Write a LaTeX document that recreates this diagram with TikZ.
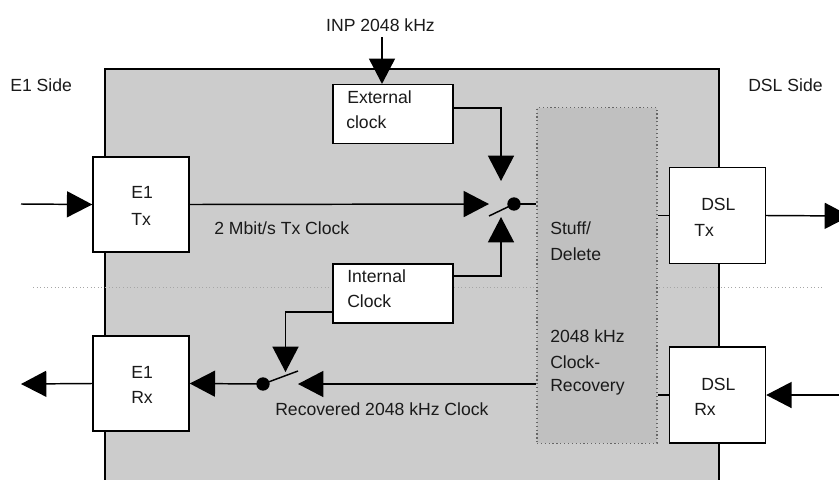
\documentclass[tikz,border=0pt]{standalone}
\usepackage{fontspec}
\setmainfont{Liberation Sans}
\usetikzlibrary{arrows.meta}
\definecolor{panel}{HTML}{CCCCCC}
\definecolor{stuffgrey}{HTML}{C0C0C0}
\definecolor{txt}{HTML}{1A1A1A}
\tikzset{
  blockbox/.style={draw=black,fill=white,line width=1.1pt,inner sep=0pt},
  conn/.style={draw=black,line width=1.1pt},
  flow/.style={conn,-{Triangle[length=19pt,width=19.5pt]},shorten >=0pt},
  lbl/.style={font=\fontsize{13.2pt}{15pt}\selectfont,text=txt,inner sep=0pt,align=left},
  dotnode/.style={circle,fill=black,inner sep=0pt,minimum size=10pt},
}
\begin{document}
\begin{tikzpicture}[x=0.75pt,y=-0.75pt]
\useasboundingbox (0,0) rectangle (839,479);
\begin{scope}
\clip (0,0) rectangle (839,479);
\draw[conn,fill=panel] (105,69) rectangle (719,500);
\draw[draw=gray!70,line width=0.7pt,dotted] (33,287.5) -- (822,287.5);
\node[draw=black!60,dotted,line width=0.9pt,fill=stuffgrey,minimum width=90pt,minimum height=251.5pt,inner sep=0pt] (stuff) at (597,275.5) {};
\node[blockbox,minimum width=72pt,minimum height=71.5pt] (e1tx) at (141,204.5) {};
\node[blockbox,minimum width=72pt,minimum height=71.5pt] (e1rx) at (141,383.5) {};
\node[blockbox,minimum width=72pt,minimum height=72pt] (dsltx) at (717.5,215.5) {};
\node[blockbox,minimum width=72pt,minimum height=72pt] (dslrx) at (717.5,395) {};
\node[blockbox,minimum width=90pt,minimum height=44pt] (ext) at (393,114) {};
\node[blockbox,minimum width=90pt,minimum height=44pt] (int) at (393,293.5) {};
\node[dotnode] (sw1) at (514,204) {};
\node[dotnode] (sw2) at (263,384) {};
\coordinate (sw1tip) at (489,216);
\coordinate (sw2tip) at (298,371);
\coordinate (sw1in) at (489,204);
\coordinate (sw2in) at (298,384);
\coordinate (extin) at (382,37);
\coordinate (swtop) at (501,181);
\coordinate (swbot) at (501,217);
\coordinate (swdown) at (285.5,372);
\coordinate (txin) at (21,204);
\coordinate (rxout) at (21,384);
\coordinate (dsloutend) at (850,216);
\coordinate (dslinstart) at (839,395);
\draw[flow] (txin) -- (e1tx.west);
\draw[flow] (e1tx.east) -- (sw1in);
\draw[conn] (sw1.center) -- (sw1tip);
\draw[conn] (sw1.center) -- (stuff.west |- sw1);
\draw[flow] (extin) -- (ext.north -| extin);
\draw[flow] (ext.east |- 0,108) -| (swtop);
\draw[flow] (int.east |- 0,276) -| (swbot);
\draw[flow] (int.west |- 0,312) -| (swdown);
\draw[flow] (stuff.west |- sw2) -- (sw2in);
\draw[conn] (sw2.center) -- (sw2tip);
\draw[flow] (sw2.center) -- (e1rx.east);
\draw[flow] (e1rx.west) -- (rxout);
\draw[conn] (stuff.east |- dsltx) -- (dsltx.west);
\draw[conn] (stuff.east |- dslrx) -- (dslrx.west);
\draw[flow] (dsltx.east) -- (dsloutend);
\draw[flow] (dslinstart) -- (dslrx.east);
\end{scope}
\node[lbl,anchor=center] (inp) at (380.5,25) {INP 2048 kHz};
\node[lbl,anchor=west] (e1side) at (10,85) {E1 Side};
\node[lbl,anchor=west] (dslside) at (748,85) {DSL Side};
\node[lbl,anchor=west] (extA) at (347,97) {External};
\node[lbl,anchor=west] (extB) at (346,122) {clock};
\node[lbl,anchor=west] (intA) at (347,276) {Internal};
\node[lbl,anchor=west] (intB) at (347,301) {Clock};
\node[lbl,anchor=west] (e1txA) at (131,192) {E1};
\node[lbl,anchor=west] (e1txB) at (131,219) {Tx};
\node[lbl,anchor=west] (e1rxA) at (131,372) {E1};
\node[lbl,anchor=west] (e1rxB) at (131,397) {Rx};
\node[lbl,anchor=west] (dsltxA) at (701,204) {DSL};
\node[lbl,anchor=west] (dsltxB) at (694,230) {Tx};
\node[lbl,anchor=west] (dslrxA) at (701,384) {DSL};
\node[lbl,anchor=west] (dslrxB) at (694,409) {Rx};
\node[lbl,anchor=west] (txclk) at (214,228) {2 Mbit/s Tx Clock};
\node[lbl,anchor=west] (rxclk) at (275,409) {Recovered 2048 kHz Clock};
\node[lbl,anchor=west] (sdA) at (550,228) {Stuff/};
\node[lbl,anchor=west] (sdB) at (550,254) {Delete};
\node[lbl,anchor=west] (crA) at (550,336) {2048 kHz};
\node[lbl,anchor=west] (crB) at (550,362) {Clock-};
\node[lbl,anchor=west] (crC) at (550,387) {Recovery};
\end{tikzpicture}
\end{document}
